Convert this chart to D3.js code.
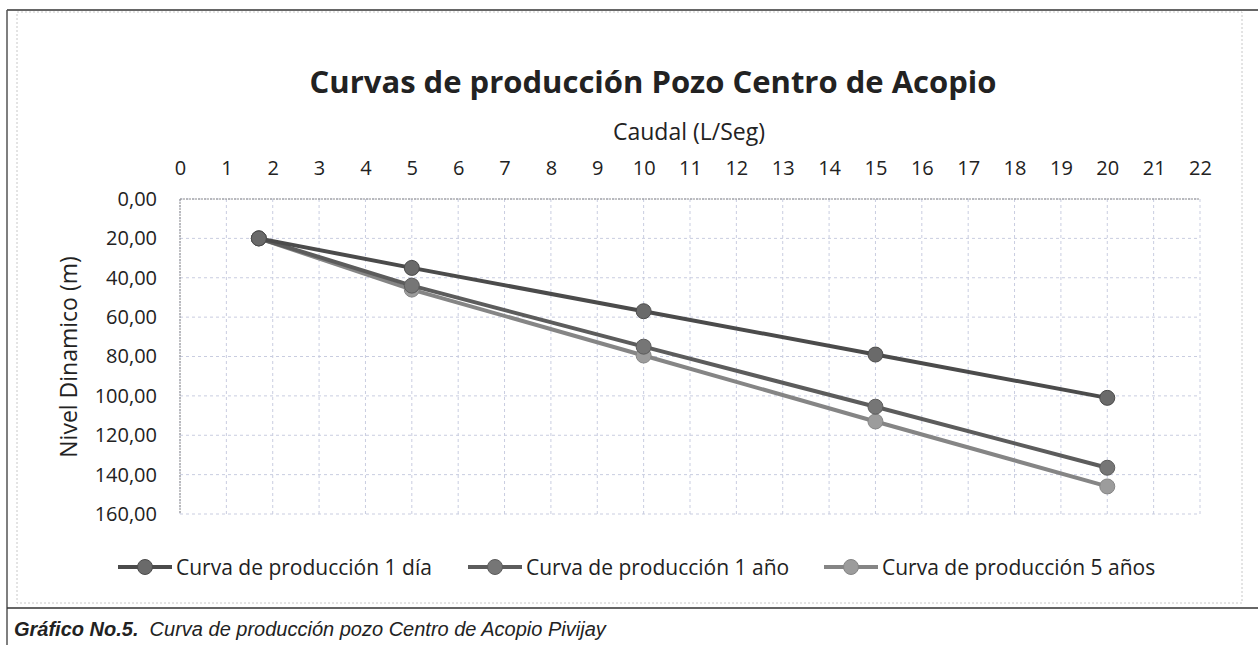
<!DOCTYPE html>
<html>
<head>
<meta charset="utf-8">
<script src="https://cdn.jsdelivr.net/npm/d3@7"></script>
<style>
  html, body { margin: 0; padding: 0; background: #fff; }
  svg { display: block; }
  text { font-family: "Open Sans", "Noto Sans", sans-serif; fill: #222; }
</style>
</head>
<body>
<svg id="chart" width="1258" height="645"></svg>
<script>
// ---- data ----
const seriesNames = ["Curva de producción 1 día", "Curva de producción 1 año", "Curva de producción 5 años"];
const caudal = [1.7, 5, 10, 15, 20];
const nivel1Dia = [20, 35, 57, 79, 101];
const nivel1Anio = [20, 44, 75, 105.5, 136.5];
const nivel5Anios = [20, 46, 79.5, 113, 146];
const xTicks = d3.range(0, 23);
const yTicks = [0, 20, 40, 60, 80, 100, 120, 140, 160];
const titleText = "Curvas de producción Pozo Centro de Acopio";
const xTitle = "Caudal (L/Seg)";
const yTitle = "Nivel Dinamico (m)";
const captionBold = "Gráfico No.5.";
const captionRest = "  Curva de producción pozo Centro de Acopio Pivijay";

// ---- styles ----
const lineColors = ["#4b4b4b", "#5c5c5c", "#858585"];
const markerColors = ["#6a6a6a", "#767676", "#9c9c9c"];

const svg = d3.select("#chart");

// document frame (table cell borders)
svg.append("line").attr("x1", 7).attr("x2", 1258).attr("y1", 10).attr("y2", 10)
  .attr("stroke", "#333").attr("stroke-width", 1.5);
svg.append("line").attr("x1", 7).attr("x2", 7).attr("y1", 10).attr("y2", 645)
  .attr("stroke", "#555").attr("stroke-width", 1.5);
svg.append("line").attr("x1", 7).attr("x2", 1258).attr("y1", 608).attr("y2", 608)
  .attr("stroke", "#333").attr("stroke-width", 1.5);
// chart area border (light dotted)
svg.append("rect").attr("x", 17).attr("y", 12).attr("width", 1225).attr("height", 591)
  .attr("fill", "none").attr("stroke", "#c8c8c8").attr("stroke-dasharray", "2,2");

// scales
const x = d3.scaleLinear().domain([0, 22]).range([180, 1200]);
const y = d3.scaleLinear().domain([0, 160]).range([199, 514]);

// grid
const grid = svg.append("g");
grid.selectAll("line.v").data(xTicks).join("line")
  .attr("x1", d => x(d)).attr("x2", d => x(d))
  .attr("y1", y(0)).attr("y2", y(160))
  .attr("stroke", "#c9cde0").attr("stroke-dasharray", "3,3");
grid.selectAll("line.h").data(yTicks).join("line")
  .attr("x1", x(0)).attr("x2", x(22))
  .attr("y1", d => y(d)).attr("y2", d => y(d))
  .attr("stroke", "#c9cde0").attr("stroke-dasharray", "3,3");
// axis lines (top and left)
svg.append("line").attr("x1", x(0)).attr("x2", x(22)).attr("y1", y(0)).attr("y2", y(0))
  .attr("stroke", "#8a8a8a").attr("stroke-dasharray", "2,1");
svg.append("line").attr("x1", x(0)).attr("x2", x(0)).attr("y1", y(0)).attr("y2", y(160))
  .attr("stroke", "#8a8a8a").attr("stroke-dasharray", "2,1");

// axes
const xAxis = d3.axisTop(x).tickValues(xTicks).tickFormat(d3.format("d")).tickSize(0).tickPadding(24);
svg.append("g").attr("transform", `translate(0,${y(0)})`).call(xAxis)
  .call(g => g.select(".domain").remove())
  .selectAll("text").style("font-size", "20px").attr("fill", "#222");

const yAxis = d3.axisLeft(y).tickValues(yTicks)
  .tickFormat(d => d3.format(".2f")(d).replace(".", ",")).tickSize(0).tickPadding(23);
svg.append("g").attr("transform", `translate(${x(0)},0)`).call(yAxis)
  .call(g => g.select(".domain").remove())
  .selectAll("text").style("font-size", "20px").attr("fill", "#222");

// titles
svg.append("text").attr("x", 653).attr("y", 93).attr("text-anchor", "middle")
  .style("font-size", "31px").style("font-weight", "700").attr("fill", "#1a1a1a").text(titleText);
svg.append("text").attr("x", 689).attr("y", 140).attr("text-anchor", "middle")
  .style("font-size", "23px").text(xTitle);
svg.append("text").attr("transform", "translate(77,357) rotate(-90)").attr("text-anchor", "middle")
  .style("font-size", "23px").text(yTitle);

// series
const series = [nivel1Dia, nivel1Anio, nivel5Anios].map((vals, i) => ({
  name: seriesNames[i], i, pts: caudal.map((c, j) => ({ x: c, y: vals[j] }))
}));
const line = d3.line().x(d => x(d.x)).y(d => y(d.y));
const sg = svg.append("g").selectAll("g").data(series.slice().reverse()).join("g");
sg.append("path").attr("d", d => line(d.pts)).attr("fill", "none")
  .attr("stroke", d => lineColors[d.i]).attr("stroke-width", 4);
sg.selectAll("circle").data(d => d.pts.map(p => ({ ...p, i: d.i }))).join("circle")
  .attr("cx", d => x(d.x)).attr("cy", d => y(d.y)).attr("r", 7.5)
  .attr("fill", d => markerColors[d.i]).attr("stroke", d => lineColors[d.i]).attr("stroke-width", 1);

// legend
const legendTextX = [176, 526, 882];
const lg = svg.append("g").selectAll("g").data(series).join("g")
  .attr("transform", (d, k) => `translate(${legendTextX[k]},567)`);
lg.append("line").attr("x1", -58).attr("x2", -4).attr("y1", 0).attr("y2", 0)
  .attr("stroke", d => lineColors[d.i]).attr("stroke-width", 4);
lg.append("circle").attr("cx", -31).attr("cy", 0).attr("r", 7.5)
  .attr("fill", d => markerColors[d.i]).attr("stroke", d => lineColors[d.i]);
lg.append("text").attr("x", 0).attr("y", 7.5).style("font-size", "21px").text(d => d.name);

// caption
const cap = svg.append("text").attr("x", 14).attr("y", 636)
  .style("font-family", "'Liberation Sans', Arial, sans-serif").style("font-size", "20px")
  .style("font-style", "italic").attr("fill", "#111");
cap.append("tspan").style("font-weight", "700").text(captionBold);
cap.append("tspan").attr("xml:space", "preserve").style("white-space", "pre").text(captionRest);
</script>
</body>
</html>
